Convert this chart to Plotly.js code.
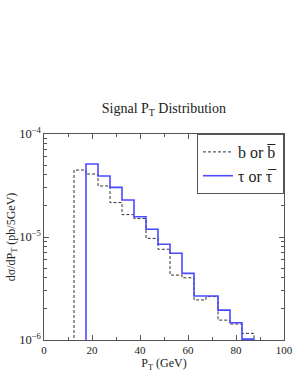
<!DOCTYPE html>
<html><head><meta charset="utf-8">
<script src="https://cdn.plot.ly/plotly-3.0.1.min.js"></script>
<style>body{margin:0;background:#fff}#c{width:298px;height:385px}</style>
</head><body><div id="c"></div>
<script>
// bin edges (GeV) and values (pb/5GeV)
var bEdges = [12.5, 17.5, 22.5, 27.5, 32.5, 37.5, 42.5, 47.5, 52.5, 57.5, 62.5, 67.5, 72.5, 77.5, 82.5, 87.5];
var bValues = [4.47e-5, 4.09e-5, 3.13e-5, 2.16e-5, 1.65e-5, 1.51e-5, 9.7e-6, 7.6e-6, 4.27e-6, 4.02e-6, 2.45e-6, 2.64e-6, 1.56e-6, 1.43e-6, 1.16e-6];
var tauEdges = [17.5, 22.5, 27.5, 32.5, 37.5, 42.5, 47.5, 52.5, 57.5, 62.5, 67.5, 72.5, 77.5, 82.5, 87.5];
var tauValues = [5.11e-5, 3.91e-5, 3.03e-5, 2.29e-5, 1.57e-5, 1.19e-5, 8.5e-6, 6.95e-6, 4.43e-6, 2.67e-6, 2.67e-6, 1.95e-6, 1.47e-6, 1.02e-6];
var floorValue = 1e-7;

function stepTrace(edges, vals) {
  var x = [edges[0]], y = [floorValue];
  for (var i = 0; i < vals.length; i++) { x.push(edges[i]); y.push(vals[i]); }
  x.push(edges[edges.length - 1]); y.push(floorValue);
  return {x: x, y: y};
}
var b = stepTrace(bEdges, bValues);
var t = stepTrace(tauEdges, tauValues);
var serif = '"Liberation Serif"';
var data = [
  {x: b.x, y: b.y, type: 'scatter', mode: 'lines', line: {shape: 'hv', color: '#333', width: 1, dash: '3px,2px'}, name: 'b or b\u0305'},
  {x: t.x, y: t.y, type: 'scatter', mode: 'lines', line: {shape: 'hv', color: '#4a4aff', width: 1.6}, name: '\u03c4 or \u03c4\u0305'}
];
var layout = {
  width: 298, height: 385,
  margin: {l: 44, r: 14, t: 134, b: 45},
  paper_bgcolor: '#fff', plot_bgcolor: '#fff',
  font: {family: serif, color: '#222', size: 11},
  title: {text: 'Signal P<sub>T</sub> Distribution', font: {family: serif, size: 14, color: '#222'}, x: 0.55, xanchor: 'center', y: 0.718, yanchor: 'middle'},
  showlegend: true,
  legend: {x: 1, xanchor: 'right', y: 1, yanchor: 'top', bgcolor: '#fff', bordercolor: '#555', borderwidth: 1, font: {family: serif, size: 16, color: '#222'}, tracegroupgap: 0, itemwidth: 30},
  xaxis: {range: [0, 100], tick0: 0, dtick: 20, ticks: 'inside', ticklen: 5, tickcolor: '#555', showline: true, linecolor: '#555', linewidth: 1, mirror: 'ticks', showgrid: false, zeroline: false,
    tickfont: {family: serif, size: 11, color: '#222'},
    minor: {ticks: 'inside', dtick: 10, ticklen: 3, tickcolor: '#555', showgrid: false},
    title: {text: 'P<sub>T</sub> (GeV)', font: {family: serif, size: 12, color: '#222'}, standoff: 0}},
  yaxis: {type: 'log', range: [-6, -4], dtick: 1, exponentformat: 'power', ticks: 'inside', ticklen: 5, tickcolor: '#555', showline: true, linecolor: '#555', linewidth: 1, mirror: 'ticks', showgrid: false, zeroline: false,
    tickfont: {family: serif, size: 10, color: '#222'},
    minor: {ticks: 'inside', dtick: 'D1', ticklen: 3, tickcolor: '#555', showgrid: false},
    title: {text: 'd\u03c3/dP<sub>T</sub> (pb/5GeV)', font: {family: serif, size: 12, color: '#222'}, standoff: 0}}
};
Plotly.newPlot('c', data, layout, {staticPlot: true, displayModeBar: false});
</script></body></html>
